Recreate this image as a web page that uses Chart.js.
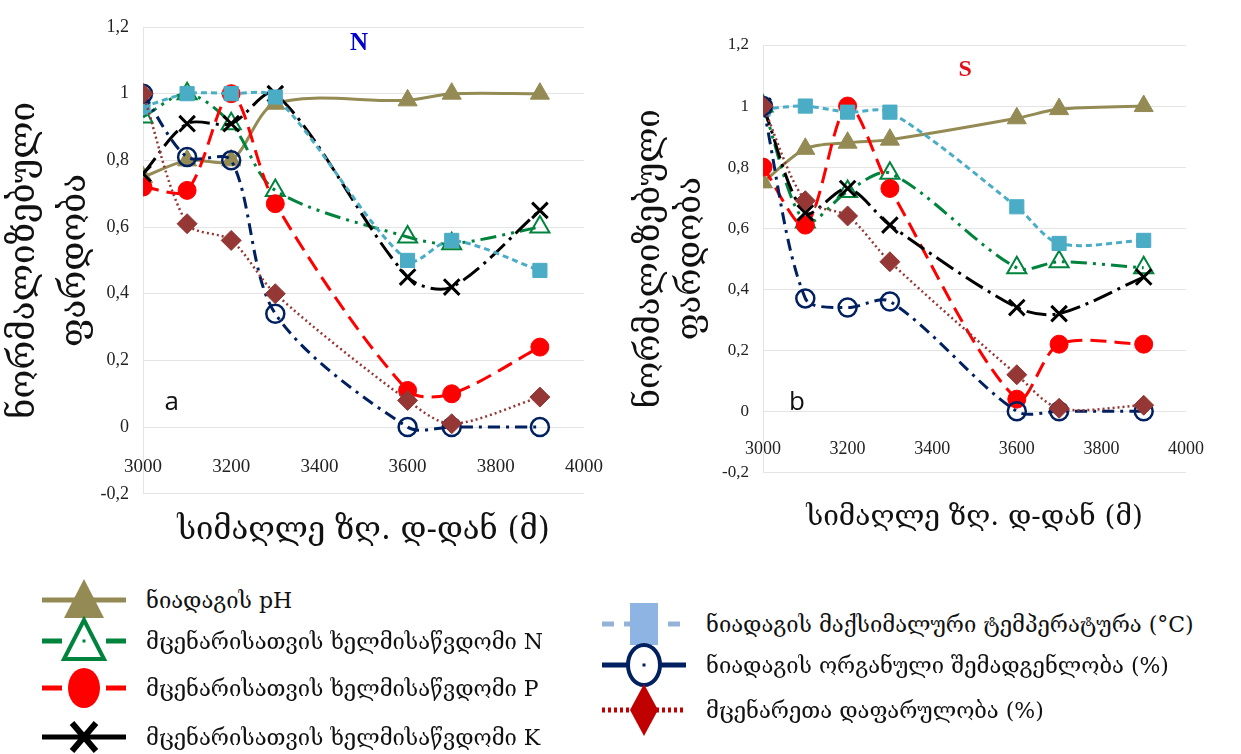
<!DOCTYPE html>
<html>
<head>
<meta charset="utf-8">
<script src="https://cdn.jsdelivr.net/npm/chart.js@4.4.0/dist/chart.umd.min.js"></script>
<style>
  body { margin: 0; background: #fff; width: 1241px; height: 754px; overflow: hidden; position: relative;
         font-family: 'DejaVu Serif', 'DejaVu Sans', serif; }
  canvas.chart { position: absolute; }
  #cN { left: 0; top: 0; }
  #cS { left: 620px; top: 0; }
  .leg { position: absolute; display: flex; align-items: center; font-size: 22px; color: #111; white-space: nowrap; }
  .leg canvas { margin-right: 18px; }
</style>
</head>
<body>
<canvas id="cN" class="chart" width="610" height="570"></canvas>
<canvas id="cS" class="chart" width="610" height="560"></canvas>
<div id="legend"></div>
<script>
// სიმაღლეები (მ)
const heights = [3000, 3100, 3200, 3300, 3600, 3700, 3900];
const names = [
  'ნიადაგის pH',
  'მცენარისათვის ხელმისაწვდომი N',
  'მცენარისათვის ხელმისაწვდომი P',
  'მცენარისათვის ხელმისაწვდომი K',
  'ნიადაგის მაქსიმალური ტემპერატურა (°C)',
  'ნიადაგის ორგანული შემადგენლობა (%)',
  'მცენარეთა დაფარულობა (%)'
];
const xTicks = [3000, 3200, 3400, 3600, 3800, 4000];
const yTicks = [-0.2, 0, 0.2, 0.4, 0.6, 0.8, 1, 1.2];

// a) N ფერდობი
const phN    = [0.75, 0.80, 0.80, 0.97, 0.98, 1.00, 1.00];
const nitN   = [0.93, 1.00, 0.91, 0.71, 0.57, 0.55, 0.60];
const phosN  = [0.72, 0.71, 1.00, 0.67, 0.11, 0.10, 0.24];
const kalN   = [0.76, 0.91, 0.91, 1.00, 0.45, 0.42, 0.65];
const tempN  = [0.96, 1.00, 1.00, 0.99, 0.50, 0.56, 0.47];
const orgN   = [1.00, 0.81, 0.80, 0.34, 0.00, 0.00, 0.00];
const coverN = [1.00, 0.61, 0.56, 0.40, 0.08, 0.01, 0.09];

// b) S ფერდობი
const phS    = [0.75, 0.86, 0.88, 0.89, 0.96, 0.99, 1.00];
const nitS   = [1.00, 0.62, 0.72, 0.78, 0.47, 0.49, 0.47];
const phosS  = [0.80, 0.61, 1.00, 0.73, 0.04, 0.22, 0.22];
const kalS   = [1.00, 0.65, 0.73, 0.61, 0.34, 0.32, 0.44];
const tempS  = [0.99, 1.00, 0.98, 0.98, 0.67, 0.55, 0.56];
const orgS   = [1.00, 0.37, 0.34, 0.36, 0.00, 0.00, 0.00];
const coverS = [1.00, 0.69, 0.64, 0.49, 0.12, 0.01, 0.02];

// სტილები
const styles = [
  { color: '#948A54', dash: [],                point: 'triangle', r: 11, fill: '#948A54', bw: 1 },
  { color: '#00843D', dash: [16, 6, 3, 6, 3, 6], point: 'triangle', r: 11, fill: 'rgba(0,0,0,0)', bw: 2 },
  { color: '#FF0000', dash: [16, 8],           point: 'circle',   r: 9,  fill: '#FF0000', bw: 1 },
  { color: '#000000', dash: [20, 6, 3, 6],     point: 'crossRot', r: 11, fill: '#000000', bw: 3 },
  { color: '#4BACC6', dash: [6, 4],            point: 'rect',     r: 10, fill: '#4BACC6', bw: 1 },
  { color: '#002060', dash: [12, 6, 3, 6],     point: 'circle',   r: 9,  fill: 'rgba(0,0,0,0)', bw: 2.5 },
  { color: '#953735', dash: [2, 3],            point: 'rectRot',  r: 10, fill: '#953735', bw: 1 }
];

const geo = "'DejaVu Serif', 'DejaVu Sans', serif";
const numFont = "'Liberation Serif', serif";

function fmt(v) {
  const r = Math.round(v * 10) / 10;
  return String(r).replace('.', ',');
}

function makeSets(series) {
  return series.map((vals, i) => {
    const s = styles[i];
    return {
      label: names[i],
      data: heights.map((h, k) => ({ x: h, y: vals[k] })),
      borderColor: s.color,
      borderWidth: i === 6 ? 2.5 : 3,
      borderDash: s.dash,
      pointStyle: s.point,
      pointRadius: s.r,
      pointBackgroundColor: s.fill,
      pointBorderColor: s.color,
      pointBorderWidth: s.bw,
      tension: 0.3,
      fill: false,
      order: 6 - i
    };
  });
}

// ტექსტი ნახაზის შიგნით (N, S, a, b)
const panelText = {
  id: 'panelText',
  afterDraw(chart, args, opts) {
    const { ctx, scales: { x, y } } = chart;
    (opts.items || []).forEach(t => {
      ctx.save();
      ctx.font = t.font;
      ctx.fillStyle = t.color;
      ctx.textAlign = 'center';
      ctx.textBaseline = 'middle';
      ctx.fillText(t.text, x.getPixelForValue(t.x), y.getPixelForValue(t.y));
      ctx.restore();
    });
  }
};

function makeChart(id, series, o) {
  return new Chart(document.getElementById(id), {
    type: 'line',
    data: { datasets: makeSets(series) },
    plugins: [panelText],
    options: {
      responsive: false,
      animation: false,
      layout: { padding: { top: o.top, right: o.right, bottom: o.bottom, left: 0 } },
      plugins: {
        legend: { display: false },
        tooltip: { enabled: false },
        title: {
          display: true, position: 'bottom', fullSize: false,
          text: 'სიმაღლე ზღ. დ-დან (მ)',
          color: '#111',
          font: { family: geo, size: o.xtSize, weight: 'normal', lineHeight: 1.2 },
          padding: { top: o.xtPad, bottom: 0 }
        },
        panelText: { items: o.items }
      },
      scales: {
        x: {
          type: 'linear',
          position: { y: 0 },
          min: 3000, max: 4000,
          afterBuildTicks: s => { s.ticks = xTicks.map(v => ({ value: v })); },
          afterFit: s => { s.paddingLeft = 0; s.paddingRight = 0; },
          grid: { display: false, drawTicks: false },
          border: { display: false },
          ticks: { callback: v => String(v), color: '#222', padding: o.xPad,
                   font: { family: numFont, size: o.tickSize }, maxRotation: 0 }
        },
        y: {
          min: -0.2, max: 1.2,
          afterBuildTicks: s => { s.ticks = yTicks.map(v => ({ value: v })); },
          afterFit: s => { s.width = 143; },
          grid: { color: '#e4e4e4', lineWidth: 1, drawTicks: false },
          border: { display: true, color: '#e4e4e4' },
          ticks: { callback: v => fmt(v), color: '#222', padding: 14,
                   font: { family: numFont, size: o.tickSize - 1 } },
          title: {
            display: true,
            text: ['ნორმალიზებული', 'ფარდობა'],
            color: '#111',
            font: { family: geo, size: o.ytSize, lineHeight: o.ytLh },
            padding: { top: o.ytPad, bottom: 0 }
          }
        }
      }
    }
  });
}

makeChart('cN', [phN, nitN, phosN, kalN, tempN, orgN, coverN], {
  top: 27, right: 26, bottom: 20, xtSize: 31, xtPad: 19, xPad: 29, tickSize: 19,
  ytSize: 35, ytLh: 1.45, ytPad: 0,
  items: [
    { text: 'N', x: 3490, y: 1.15, font: "bold 25px 'Liberation Serif', serif", color: '#0000CC' },
    { text: 'a', x: 3065, y: 0.075, font: "26px 'Open Sans', 'DejaVu Sans', sans-serif", color: '#111' }
  ]
});

makeChart('cS', [phS, nitS, phosS, kalS, tempS, orgS, coverS], {
  top: 45, right: 44, bottom: 25, xtSize: 28, xtPad: 29, xPad: 27, tickSize: 18,
  ytSize: 33, ytLh: 1.27, ytPad: 9,
  items: [
    { text: 'S', x: 3478, y: 1.12, font: "bold 24px 'Liberation Serif', serif", color: '#E3101A' },
    { text: 'b', x: 3080, y: 0.03, font: "26px 'Open Sans', 'DejaVu Sans', sans-serif", color: '#111' }
  ]
});

// ლეგენდა
const legendStyle = [
  { color: '#948A54', dash: [],        mark: 'tri',    fill: true },
  { color: '#00843D', dash: [20, 12],  mark: 'tri',    fill: false },
  { color: '#FF0000', dash: [20, 12],  mark: 'circle', fill: true },
  { color: '#000000', dash: [],        mark: 'x',      fill: true },
  { color: '#95B3D7', dash: [12, 10],  mark: 'rect',   fill: true, markColor: '#8DB4E2' },
  { color: '#002060', dash: [],        mark: 'circle', fill: false },
  { color: '#C00000', dash: [3, 3],    mark: 'diam',   fill: true }
];
const legendPos = [
  { x: 40, y: 600 }, { x: 40, y: 641 }, { x: 40, y: 688 }, { x: 40, y: 737 },
  { x: 600, y: 624 }, { x: 600, y: 665 }, { x: 600, y: 710 }
];

function drawIcon(cv, s) {
  const c = cv.getContext('2d');
  const w = cv.width, h = cv.height, cx = w / 2, cy = h / 2;
  c.strokeStyle = s.color;
  c.lineWidth = 5;
  c.setLineDash(s.dash);
  c.beginPath(); c.moveTo(2, cy); c.lineTo(w - 2, cy); c.stroke();
  c.setLineDash([]);
  const mc = s.markColor || s.color;
  c.fillStyle = mc; c.strokeStyle = mc;
  c.beginPath();
  if (s.mark === 'tri') {
    c.moveTo(cx, cy - 21); c.lineTo(cx + 20, cy + 18); c.lineTo(cx - 20, cy + 18); c.closePath();
  } else if (s.mark === 'circle') {
    c.ellipse(cx, cy, 16, 20, 0, 0, Math.PI * 2);
  } else if (s.mark === 'rect') {
    c.rect(cx - 14, cy - 21, 28, 42);
  } else if (s.mark === 'diam') {
    c.moveTo(cx, cy - 26); c.lineTo(cx + 14, cy); c.lineTo(cx, cy + 26); c.lineTo(cx - 14, cy); c.closePath();
  } else if (s.mark === 'x') {
    c.lineWidth = 6;
    c.moveTo(cx - 12, cy - 14); c.lineTo(cx + 12, cy + 14);
    c.moveTo(cx + 12, cy - 14); c.lineTo(cx - 12, cy + 14);
    c.stroke();
    return;
  }
  if (s.fill) {
    c.fill();
  } else {
    c.fillStyle = '#fff'; c.fill();
    c.lineWidth = 4; c.stroke();
    c.fillStyle = mc; c.fillRect(cx - 1.5, cy - 1.5, 3, 3);
  }
}

const legend = document.getElementById('legend');
names.forEach((n, i) => {
  const row = document.createElement('div');
  row.className = 'leg';
  row.style.left = legendPos[i].x + 'px';
  row.style.top = (legendPos[i].y - 28) + 'px';
  const cv = document.createElement('canvas');
  cv.width = 88; cv.height = 56;
  row.appendChild(cv);
  const sp = document.createElement('span');
  sp.textContent = n;
  row.appendChild(sp);
  legend.appendChild(row);
  drawIcon(cv, legendStyle[i]);
});
</script>
</body>
</html>
